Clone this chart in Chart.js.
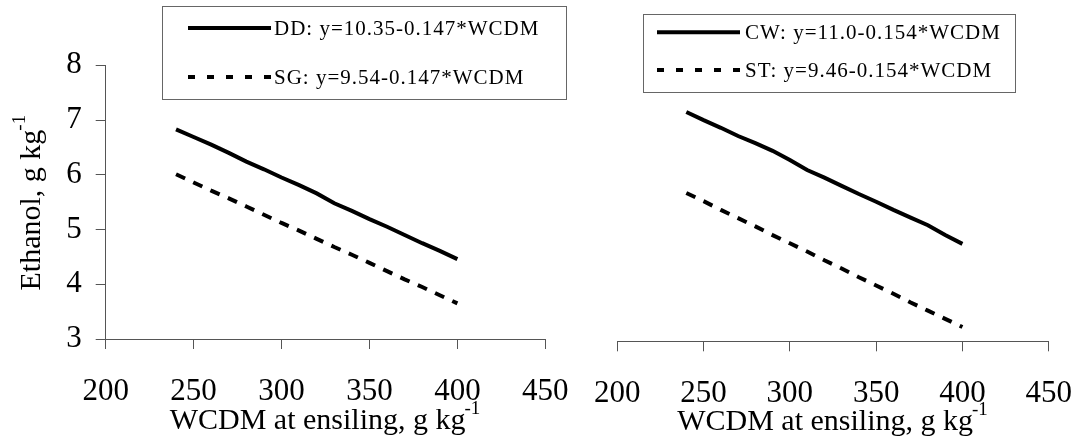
<!DOCTYPE html>
<html>
<head>
<meta charset="utf-8">
<script src="https://cdn.jsdelivr.net/npm/chart.js@4.4.0/dist/chart.umd.min.js"></script>
<style>
  body { margin: 0; background: #fff; }
  canvas { position: absolute; top: 0; }
  #leftChart { left: 0; }
  #rightChart { left: 580px; }
</style>
</head>
<body>
<canvas id="leftChart" width="580" height="440"></canvas>
<canvas id="rightChart" width="498" height="440"></canvas>
<script>
const wcdm = [240, 250, 260, 270, 280, 290, 300, 310, 320, 330, 340, 350, 360, 370, 380, 390, 400];
const ddValues = [6.83, 6.69, 6.55, 6.40, 6.24, 6.10, 5.95, 5.81, 5.66, 5.48, 5.34, 5.19, 5.05, 4.90, 4.75, 4.61, 4.46];
const sgValues = [6.01, 5.86, 5.71, 5.57, 5.42, 5.27, 5.12, 4.98, 4.83, 4.68, 4.54, 4.39, 4.24, 4.09, 3.95, 3.80, 3.65];
const cwValues = [7.19, 7.04, 6.90, 6.75, 6.62, 6.48, 6.31, 6.13, 5.99, 5.84, 5.69, 5.55, 5.40, 5.26, 5.12, 4.94, 4.78];
const stValues = [5.71, 5.56, 5.40, 5.25, 5.10, 4.94, 4.79, 4.64, 4.48, 4.33, 4.17, 4.02, 3.87, 3.71, 3.56, 3.41, 3.26];
const xTicks = [200, 250, 300, 350, 400, 450];
const yTicks = [3, 4, 5, 6, 7, 8];
const leftLabels = ['DD: y=10.35-0.147*WCDM', 'SG: y=9.54-0.147*WCDM'];
const rightLabels = ['CW: y=11.0-0.154*WCDM', 'ST: y=9.46-0.154*WCDM'];
const yTitle = 'Ethanol, g kg';
const xTitle = 'WCDM at ensiling, g kg';
const unitSup = '-1';

const serif = "'Liberation Serif', 'Times New Roman', serif";
const axisGray = '#555';

function drawWithSup(ctx, main, sup, cx, by) {
  ctx.font = '30px ' + serif;
  const mw = ctx.measureText(main).width;
  ctx.font = '19px ' + serif;
  const sw = ctx.measureText(sup).width;
  const x0 = cx - (mw + sw) / 2;
  ctx.textAlign = 'left';
  ctx.textBaseline = 'alphabetic';
  ctx.fillStyle = '#000';
  ctx.font = '30px ' + serif;
  ctx.fillText(main, x0, by);
  ctx.font = '19px ' + serif;
  ctx.fillText(sup, x0 + mw - 1, by - 15);
}

// legend box + axis titles with superscripts
const decorPlugin = {
  id: 'decor',
  afterDraw(chart, args, opts) {
    const ctx = chart.ctx;
    const area = chart.chartArea;
    const b = opts.box;
    ctx.save();
    ctx.strokeStyle = '#666';
    ctx.lineWidth = 1;
    ctx.strokeRect(b.x + 0.5, b.y + 0.5, b.w, b.h);
    chart.data.datasets.forEach((ds, i) => {
      const row = opts.rows[i];
      ctx.beginPath();
      ctx.setLineDash(ds.borderDash.length ? [7, 12] : []);
      ctx.lineWidth = 4;
      ctx.strokeStyle = ds.borderColor;
      ctx.moveTo(opts.sample[0], row.line);
      ctx.lineTo(opts.sample[1], row.line);
      ctx.stroke();
      ctx.setLineDash([]);
      ctx.font = '21px ' + serif;
      ctx.letterSpacing = '1px';
      ctx.fillStyle = '#000';
      ctx.textAlign = 'left';
      ctx.textBaseline = 'middle';
      ctx.fillText(ds.label, opts.textX, row.text);
      ctx.letterSpacing = '0px';
    });
    drawWithSup(ctx, xTitle, unitSup, (area.left + area.right) / 2, opts.xTitleY);
    if (opts.showYTitle) {
      ctx.translate(39.5, (area.top + area.bottom) / 2);
      ctx.rotate(-Math.PI / 2);
      drawWithSup(ctx, yTitle, unitSup, 0, 0);
    }
    ctx.restore();
  }
};

function makeChart(id, series, labels, setup) {
  const datasets = series.map((vals, i) => ({
    label: labels[i],
    data: wcdm.map((x, j) => ({ x: x, y: vals[j] })),
    borderColor: '#000',
    borderWidth: 4,
    borderDash: i === 0 ? [] : [10, 9],
    pointRadius: 0,
    fill: false,
    tension: 0
  }));
  const yAxis = {
    display: setup.showY,
    min: 3,
    max: 8,
    afterBuildTicks: s => { s.ticks = yTicks.map(v => ({ value: v })); },
    ticks: { font: { family: serif, size: 31, lineHeight: 1 }, color: '#000', padding: 14 },
    grid: { drawOnChartArea: false, drawTicks: true, tickLength: 10, color: axisGray },
    border: { display: true, color: axisGray }
  };
  if (setup.showY) {
    yAxis.afterFit = s => { s.width = 105.7; };
  }
  return new Chart(document.getElementById(id), {
    type: 'line',
    data: { datasets: datasets },
    plugins: [decorPlugin],
    options: {
      responsive: false,
      animation: false,
      layout: { padding: setup.padding },
      plugins: {
        legend: { display: false },
        tooltip: { enabled: false },
        decor: setup.decor
      },
      scales: {
        x: {
          type: 'linear',
          min: 200,
          max: 450,
          afterBuildTicks: s => { s.ticks = xTicks.map(v => ({ value: v })); },
          afterFit: s => { s.height = setup.xHeight; },
          // tall line height pushes the labels down without widening the side padding
          ticks: { font: { family: serif, size: 31, lineHeight: 2.74 }, color: '#000', padding: 0, maxRotation: 0, autoSkip: false },
          grid: { drawOnChartArea: false, drawTicks: true, tickLength: 10, color: axisGray },
          border: { display: true, color: axisGray }
        },
        y: yAxis
      }
    }
  });
}

makeChart('leftChart', [ddValues, sgValues], leftLabels, {
  padding: { top: 65.3, right: 34.7, left: 0, bottom: 0 },
  xHeight: 101,
  showY: true,
  decor: {
    box: { x: 162, y: 6, w: 404, h: 93 },
    sample: [188, 271],
    textX: 274,
    rows: [{ line: 28, text: 29.5 }, { line: 77, text: 78.5 }],
    xTitleY: 429,
    showYTitle: true
  }
});

makeChart('rightChart', [cwValues, stValues], rightLabels, {
  padding: { top: 67.6, right: 29.3, left: 37.3, bottom: 0 },
  xHeight: 98.7,
  showY: false,
  decor: {
    box: { x: 63, y: 14, w: 372, h: 78 },
    sample: [77, 160],
    textX: 165,
    rows: [{ line: 32.3, text: 33 }, { line: 70, text: 71.7 }],
    xTitleY: 430,
    showYTitle: false
  }
});
</script>
</body>
</html>
